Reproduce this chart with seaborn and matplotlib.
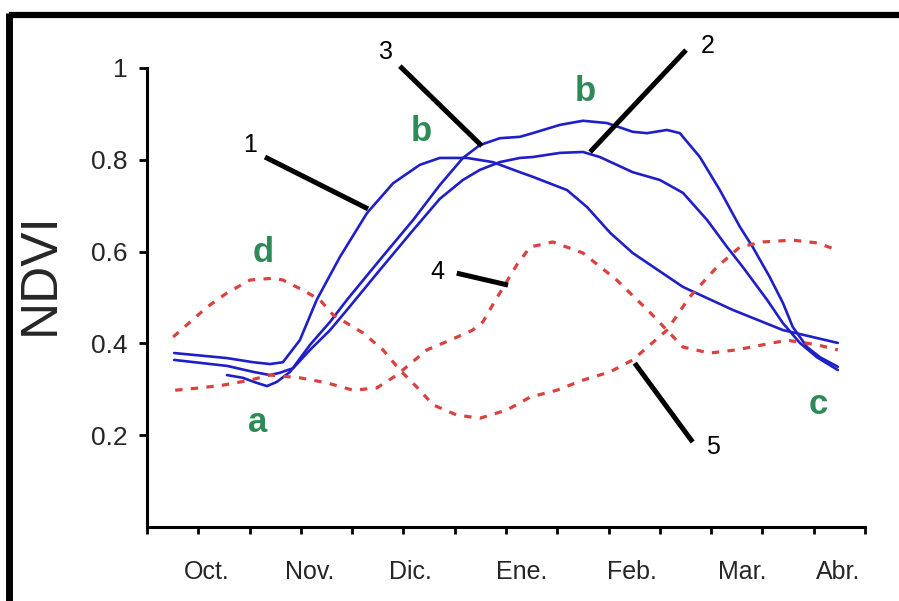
import numpy as np
import pandas as pd
import seaborn as sns
import matplotlib
import matplotlib.pyplot as plt
from matplotlib.lines import Line2D

matplotlib.use("Agg")

# Werte (x: halbe Monate ab Achsenanfang, y: NDVI)
x1 = [0.53, 1.56, 2.07, 2.40, 2.65, 2.98, 3.31, 3.76, 4.29, 4.80, 5.32, 5.71, 6.24,
      6.74, 7.27, 7.52, 8.19, 8.58, 9.03, 9.47, 10.45, 11.42, 12.40, 13.47]
y1 = [0.379, 0.368, 0.359, 0.355, 0.359, 0.407, 0.495, 0.588, 0.684, 0.749, 0.789,
      0.804, 0.804, 0.795, 0.773, 0.763, 0.734, 0.697, 0.641, 0.597, 0.523, 0.473,
      0.429, 0.401]

x2 = [0.53, 1.56, 2.07, 2.40, 2.59, 2.85, 3.18, 3.57, 3.90, 4.54, 5.19, 5.71, 6.16,
      6.49, 6.88, 7.27, 7.52, 8.05, 8.50, 8.83, 9.47, 10.0, 10.45, 10.92, 11.31,
      11.62, 12.09, 12.40, 12.73, 13.06, 13.47]
y2 = [0.364, 0.351, 0.338, 0.331, 0.336, 0.346, 0.386, 0.429, 0.473, 0.560, 0.647,
      0.715, 0.756, 0.778, 0.795, 0.804, 0.806, 0.815, 0.817, 0.806, 0.773, 0.756,
      0.728, 0.669, 0.610, 0.566, 0.495, 0.444, 0.401, 0.370, 0.342]

x3 = [1.56, 1.87, 2.14, 2.34, 2.53, 2.79, 3.18, 3.57, 3.90, 4.54, 5.19, 5.71, 6.16,
      6.49, 6.88, 7.27, 7.52, 8.05, 8.50, 8.97, 9.47, 9.75, 10.14, 10.39, 10.78,
      11.17, 11.56, 11.81, 12.14, 12.40, 12.59, 12.87, 13.12, 13.47]
y3 = [0.331, 0.325, 0.314, 0.307, 0.316, 0.338, 0.397, 0.447, 0.495, 0.582, 0.669,
      0.745, 0.804, 0.832, 0.847, 0.850, 0.858, 0.876, 0.885, 0.880, 0.861, 0.858,
      0.865, 0.858, 0.806, 0.734, 0.654, 0.610, 0.545, 0.488, 0.436, 0.392, 0.370,
      0.349]

x4 = [0.55, 1.03, 1.48, 2.01, 2.40, 2.98, 3.51, 4.02, 4.48, 4.87, 5.46, 5.91, 6.35,
      6.55, 6.74, 7.21, 7.47, 7.91, 8.50, 9.16, 9.82, 10.45, 10.97, 11.50, 12.01,
      12.48, 13.06, 13.47]
y4 = [0.298, 0.303, 0.309, 0.320, 0.331, 0.325, 0.314, 0.298, 0.303, 0.331, 0.386,
      0.407, 0.429, 0.447, 0.484, 0.571, 0.610, 0.621, 0.597, 0.538, 0.466, 0.392,
      0.379, 0.386, 0.397, 0.407, 0.397, 0.386]

x5 = [0.51, 1.17, 1.56, 2.01, 2.46, 2.65, 3.04, 3.37, 3.63, 4.21, 4.60, 4.93, 5.26,
      5.58, 6.04, 6.49, 7.02, 7.47, 7.99, 8.50, 9.03, 9.47, 10.14, 10.58, 11.11,
      11.56, 12.01, 12.59, 13.06, 13.47]
y5 = [0.414, 0.479, 0.510, 0.538, 0.542, 0.538, 0.516, 0.495, 0.462, 0.423, 0.386,
      0.342, 0.305, 0.266, 0.244, 0.237, 0.255, 0.283, 0.298, 0.320, 0.338, 0.364,
      0.429, 0.501, 0.566, 0.610, 0.621, 0.625, 0.619, 0.603]

monate = ["Oct.", "Nov.", "Dic.", "Ene.", "Feb.", "Mar.", "Abr."]
monat_pos = [1.17, 3.18, 5.13, 7.31, 9.45, 11.6, 13.47]
y_ticks = [0.2, 0.4, 0.6, 0.8, 1.0]
y_labels = ["0.2", "0.4", "0.6", "0.8", "1"]

sns.set_theme(style="white")
plt.rcParams["font.family"] = ["Liberation Sans", "DejaVu Sans"]

fig = plt.figure(figsize=(8.99, 6.01), dpi=100)
ax = fig.add_axes([0.1635, 0.1231, 0.7987, 0.7638])

blau = "#1f1fc8"
rot = "#d9423f"
for xs, ys in [(x1, y1), (x2, y2), (x3, y3)]:
    df = pd.DataFrame({"x": xs, "y": ys})
    sns.lineplot(data=df, x="x", y="y", sort=False, estimator=None, ax=ax,
                 color=blau, linewidth=1.9, legend=False)
for xs, ys in [(x4, y4), (x5, y5)]:
    df = pd.DataFrame({"x": xs, "y": ys})
    sns.lineplot(data=df, x="x", y="y", sort=False, estimator=None, ax=ax,
                 color=rot, linewidth=2.3, linestyle=(0, (2.3, 2.6)), legend=False)

ax.set_xlim(0, 14)
ax.set_ylim(0, 1)

# Achsen
for s in ["top", "right"]:
    ax.spines[s].set_visible(False)
for s in ["left", "bottom"]:
    ax.spines[s].set_color("black")
    ax.spines[s].set_linewidth(2.2)

ax.set_xticks(np.arange(0, 15))
ax.set_xticklabels([])
ax.set_xticks(monat_pos, minor=True)
ax.set_xticklabels(monate, minor=True, fontsize=18)
ax.tick_params(axis="x", which="major", bottom=True, direction="out", length=5,
               width=2, color="black")
ax.tick_params(axis="x", which="minor", bottom=True, length=0, pad=24)

ax.set_yticks(y_ticks)
ax.set_yticklabels(y_labels, fontsize=19)
ax.tick_params(axis="y", left=True, direction="out", length=6, width=2,
               color="black", pad=8)

ax.set_xlabel("")
ax.set_ylabel("NDVI", fontsize=37, va="center")
ax.yaxis.set_label_coords(-0.149, 0.553)

# Kennzeichnungen der Kurven
nummern = [("1", 2.01, 0.832, (2.30, 4.31), (0.806, 0.693)),
           ("3", 4.66, 1.035, (4.93, 6.53), (1.004, 0.830)),
           ("2", 10.94, 1.048, (10.51, 8.64), (1.039, 0.817)),
           ("4", 5.67, 0.556, (6.04, 7.04), (0.553, 0.527)),
           ("5", 11.03, 0.174, (10.64, 9.51), (0.185, 0.357))]
for txt, tx, ty, lx, ly in nummern:
    ax.text(tx, ty, txt, fontsize=18, ha="center", va="center", color="black")
    ax.plot(lx, ly, color="black", linewidth=3.6, clip_on=False, solid_capstyle="butt")

gruen = "#2e8b57"
for txt, tx, ty in [("a", 2.16, 0.227), ("d", 2.26, 0.597), ("b", 5.34, 0.861),
                    ("b", 8.54, 0.948), ("c", 13.08, 0.266)]:
    ax.text(tx, ty, txt, fontsize=25, fontweight="bold", color=gruen,
            ha="center", va="center")

# Rahmen oben und links
fig.add_artist(Line2D([0.0095, 1.0], [0.975, 0.975], transform=fig.transFigure,
                      color="black", linewidth=4.5, solid_capstyle="butt"))
fig.add_artist(Line2D([0.0095, 0.0095], [0.0, 0.979], transform=fig.transFigure,
                      color="black", linewidth=5.0, solid_capstyle="butt"))

plt.savefig("out.png", dpi=100)
